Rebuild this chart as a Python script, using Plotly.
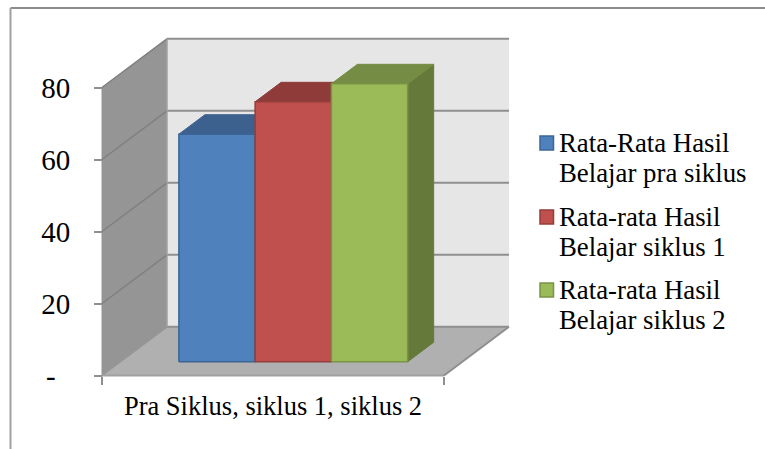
import plotly.graph_objects as go

# Chart data
category_label = "Pra Siklus, siklus 1, siklus 2"
series_names = [
    ["Rata-Rata Hasil", "Belajar pra siklus"],
    ["Rata-rata Hasil", "Belajar siklus 1"],
    ["Rata-rata Hasil", "Belajar siklus 2"],
]
series_values = [63.2, 72.2, 77.2]
y_ticks = [0, 20, 40, 60, 80]
# The zero label follows the accounting format: a dash padded with trailing spaces
y_tick_labels = ["-\u00a0\u00a0", "20", "40", "60", "80"]

# Face colours per series: front, top, side, edge
face_colors = [
    ("#4f81bd", "#3d618f", "#37577f", "#3c6596"),
    ("#c0504d", "#8f3b39", "#7f3534", "#943d3b"),
    ("#9bbb59", "#748c43", "#657a3a", "#7a9446"),
]

WIDTH, HEIGHT = 765, 449
PLOT_LEFT, PLOT_RIGHT = 102, 444      # front edge of the floor, in page pixels
Y_ZERO, Y_TOP = 375.5, 87.5           # value 0 and value 80 on the front plane
X_PX = PLOT_RIGHT - PLOT_LEFT
Y_PX = (Y_ZERO - Y_TOP) / 80

# Oblique projection: depth 0 is the front plane and depth 1 the back wall
DEPTH_X = 65 / X_PX
DEPTH_Y = 48.7 / Y_PX
GAP = 0.171
BAR_W = 0.223
BAR_D0, BAR_D1 = 0.283, 0.683


def project(points):
    """Map (x, value, depth) triples to plain axis coordinates."""
    xs = [p[0] + DEPTH_X * p[2] for p in points]
    ys = [p[1] + DEPTH_Y * p[2] for p in points]
    return xs, ys


def poly(points, fill, line, width=1.5):
    xs, ys = project(points + points[:1])
    return go.Scatter(x=xs, y=ys, mode="lines", fill="toself", fillcolor=fill,
                      line=dict(color=line, width=width), showlegend=False,
                      hoverinfo="skip")


def segment(points, color="#8f8f8f", width=2):
    xs, ys = project(points)
    return go.Scatter(x=xs, y=ys, mode="lines", line=dict(color=color, width=width),
                      showlegend=False, hoverinfo="skip")


fig = go.Figure()

# Walls and floor
top = y_ticks[-1]
fig.add_trace(poly([(0, 0, 1), (1, 0, 1), (1, top, 1), (0, top, 1)], "#e6e6e6", "#e6e6e6", 0))
fig.add_trace(poly([(0, 0, 0), (0, 0, 1), (0, top, 1), (0, top, 0)], "#959595", "#959595", 1))
fig.add_trace(poly([(0, 0, 0), (1, 0, 0), (1, 0, 1), (0, 0, 1)], "#b0b0b0", "#a0a0a0", 1))

# Gridlines run along the side wall and then across the back wall
for v in y_ticks[1:]:
    fig.add_trace(segment([(0, v, 0), (0, v, 1)], "#808080", 1.5))
    fig.add_trace(segment([(0, v, 1), (1, v, 1)]))
fig.add_trace(segment([(0, 0, 1), (1, 0, 1)]))
fig.add_trace(segment([(0, 0, 0), (0, 0, 1)], "#969696", 1.5))
fig.add_trace(segment([(1, 0, 0), (1, 0, 1)]))
fig.add_trace(segment([(0, 0, 0), (1, 0, 0)], "#a0a0a0", 2))
fig.add_trace(segment([(0, 0, 1), (0, top, 1)], "#a8a8a8", 1))

# One box per series, painted left to right so later boxes overlap earlier ones
for i, value in enumerate(series_values):
    front, upper, side, edge = face_colors[i]
    x0 = GAP + i * BAR_W
    x1 = x0 + BAR_W
    fig.add_trace(poly([(x1, 0, BAR_D0), (x1, 0, BAR_D1), (x1, value, BAR_D1), (x1, value, BAR_D0)],
                       side, side, 1))
    fig.add_trace(poly([(x0, value, BAR_D0), (x1, value, BAR_D0), (x1, value, BAR_D1), (x0, value, BAR_D1)],
                       upper, upper, 1))
    fig.add_trace(poly([(x0, 0, BAR_D0), (x1, 0, BAR_D0), (x1, value, BAR_D0), (x0, value, BAR_D0)],
                       front, edge, 1.5))

# Legend entries: a small square followed by two lines of text
LEGEND_ROWS = [143, 217, 290]
shapes = [
    dict(type="line", xref="paper", yref="paper", x0=10.5 / WIDTH, x1=1,
         y0=1 - 8 / HEIGHT, y1=1 - 8 / HEIGHT, line=dict(color="#8c8c8c", width=2)),
    dict(type="line", xref="paper", yref="paper", x0=10.5 / WIDTH, x1=10.5 / WIDTH,
         y0=0, y1=1 - 8 / HEIGHT, line=dict(color="#a0a0a0", width=2)),
]
annotations = []
for row, names, colors in zip(LEGEND_ROWS, series_names, face_colors):
    shapes.append(dict(type="rect", xref="paper", yref="paper",
                       x0=540 / WIDTH, x1=553.5 / WIDTH,
                       y0=1 - (row + 7) / HEIGHT, y1=1 - (row - 7) / HEIGHT,
                       fillcolor=colors[0], line=dict(color=colors[3], width=1.5)))
    for offset, line_text in zip((0, 30), names):
        annotations.append(dict(xref="paper", yref="paper", x=557 / WIDTH,
                                y=1 - (row + offset) / HEIGHT, xanchor="left", yanchor="middle",
                                text=line_text, showarrow=False,
                                font=dict(family="Liberation Serif", size=26.8, color="#000000")))

fig.update_layout(
    width=WIDTH, height=HEIGHT, autosize=False,
    margin=dict(l=0, r=0, t=0, b=0),
    paper_bgcolor="#ffffff", plot_bgcolor="#ffffff",
    showlegend=False, shapes=shapes, annotations=annotations,
    font=dict(family="Liberation Serif", color="#000000"),
    xaxis=dict(
        range=[-PLOT_LEFT / X_PX, (WIDTH - PLOT_LEFT) / X_PX],
        domain=[0, 1], anchor="free", position=(HEIGHT - Y_ZERO) / HEIGHT,
        showgrid=False, zeroline=False, showline=False,
        tickmode="array", tickvals=[0.5], ticktext=[category_label],
        ticks="", ticklabelstandoff=12, tickfont=dict(size=26.5),
        minor=dict(tickmode="array", tickvals=[0, 1], ticks="outside", ticklen=8,
                   tickwidth=2, tickcolor="#8f8f8f", showgrid=False),
    ),
    yaxis=dict(
        range=[-(HEIGHT - Y_ZERO) / Y_PX, Y_ZERO / Y_PX],
        domain=[0, 1], anchor="free", position=PLOT_LEFT / WIDTH,
        showgrid=False, zeroline=False, showline=False,
        tickmode="array", tickvals=y_ticks, ticktext=y_tick_labels,
        ticks="outside", ticklen=8, tickwidth=2, tickcolor="#8f8f8f",
        ticklabelstandoff=18, tickfont=dict(size=29),
    ),
)

fig.write_html("out.html", config={"displayModeBar": False})
